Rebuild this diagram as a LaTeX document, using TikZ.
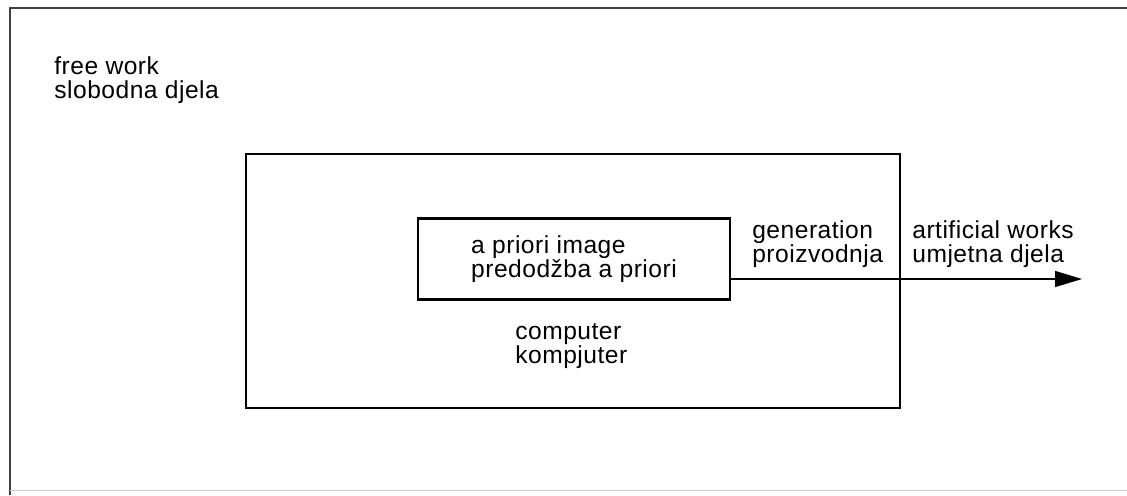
\documentclass[tikz,border=0pt]{standalone}
\usepackage{fontspec}
\setmainfont{Liberation Sans}[LetterSpace=2]
\usetikzlibrary{arrows.meta,positioning}
\tikzset{
  box/.style={draw,line width=1.3pt,inner sep=0pt},
  lbl/.style={anchor=west,inner sep=0pt,align=left}
}

\begin{document}
\begin{tikzpicture}[x=0.02cm,y=-0.02cm,
    every node/.style={font=\fontsize{14}{13.5}\selectfont}]
  \useasboundingbox (0,0) rectangle (1127,495);
  % outer page frame
  \draw[line width=0.8pt,black!75] (10,495) -- (10,8) -- (1127,8);
  \draw[line width=0.5pt,black!20] (10,490) -- (1127,490);
  \node[lbl] (freework) at (54,80) {free work\\slobodna djela};
  % computer and the image inside it
  \node[box,minimum width=13.08cm,minimum height=5.08cm] (computer) at (573,281) {};
  \node[box,minimum width=6.24cm,minimum height=1.62cm,align=left] (apriori)
    at (574,259) {a priori image\\predodžba a priori};
  \node[lbl] (comp) at (515,346) {computer\\kompjuter};
  % output
  \coordinate (tip) at (1082,279);
  \draw[line width=0.8pt,-{Triangle[length=0.54cm,width=0.32cm]}]
    (apriori.east |- tip) -- (tip);
  \node[lbl] (generation) at (752,244) {generation\\proizvodnja};
  \node[lbl] (artworks) at (912,244) {artificial works\\umjetna djela};
\end{tikzpicture}
\end{document}
